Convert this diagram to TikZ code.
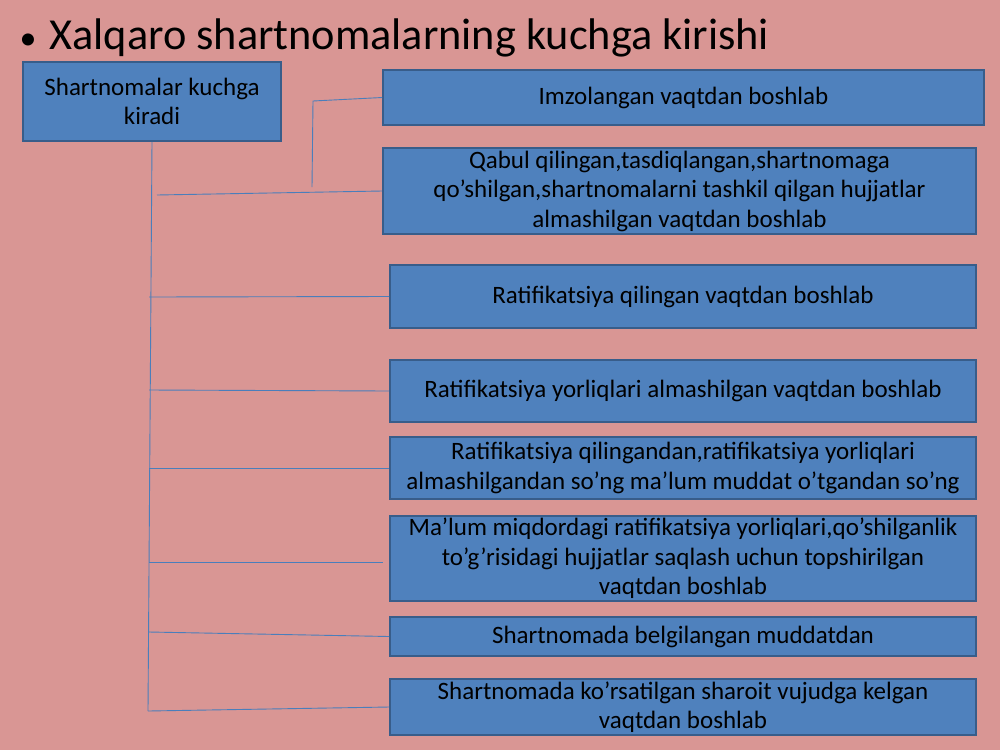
\documentclass[tikz,border=0pt]{standalone}
\usepackage{fontspec}
\setmainfont{Carlito}
\usepackage{xcolor}
\usepackage{tikz}
\usetikzlibrary{positioning,calc}

\definecolor{slidebg}{HTML}{D99694}
\definecolor{boxblue}{HTML}{4F81BD}
\definecolor{boxedge}{HTML}{385D8A}
\definecolor{linkblue}{HTML}{4A7EBB}

\tikzset{
    box/.style={draw=boxedge, line width=1.6pt, fill=boxblue, align=center, inner sep=0pt,
        font=\fontsize{25}{29.5}\selectfont, text=black},
    link/.style={draw=linkblue, line width=0.9pt}
}

\begin{document}
\begin{tikzpicture}[x=1pt, y=-1pt]
    % Slide
    \fill[slidebg] (0,0) rectangle (1000,750);
    \useasboundingbox (0,0) rectangle (1000,750);

    % Title
    \node[anchor=base, font=\fontsize{34}{34}\selectfont] (bullet) at (28,49) {•};
    \node[anchor=base west, font=\fontsize{44.3}{50}\selectfont] (title) at (46,49) {Xalqaro shartnomalarning kuchga kirishi};

    % Boxes
    \node[box, minimum width=258pt, minimum height=79pt] (main) at (152,101.5) {Shartnomalar kuchga\\kiradi};
    \node[box, minimum width=601pt, minimum height=55pt] (b1) at (683.5,97.5) {Imzolangan vaqtdan boshlab};
    \node[box, minimum width=593pt, minimum height=86pt] (b2) at (679.5,191) {Qabul qilingan,tasdiqlangan,shartnomaga\\qo’shilgan,shartnomalarni tashkil qilgan hujjatlar\\almashilgan vaqtdan boshlab};
    \node[box, minimum width=586pt, minimum height=63pt] (b3) at (683,296.5) {Ratifikatsiya qilingan vaqtdan boshlab};
    \node[box, minimum width=586pt, minimum height=62pt] (b4) at (683,391) {Ratifikatsiya yorliqlari almashilgan vaqtdan boshlab};
    \node[box, minimum width=586pt, minimum height=62pt] (b5) at (683,468) {Ratifikatsiya qilingandan,ratifikatsiya yorliqlari\\almashilgandan so’ng ma’lum muddat o’tgandan so’ng};
    \node[box, minimum width=586pt, minimum height=85pt] (b6) at (683,558.5) {Ma’lum miqdordagi ratifikatsiya yorliqlari,qo’shilganlik\\to’g’risidagi hujjatlar saqlash uchun topshirilgan\\vaqtdan boshlab};
    \node[box, minimum width=586pt, minimum height=39pt] (b7) at (683,636.5) {Shartnomada belgilangan muddatdan};
    \node[box, minimum width=586pt, minimum height=56pt] (b8) at (683,707) {Shartnomada ko’rsatilgan sharoit vujudga kelgan\\vaqtdan boshlab};

    % Trunk
    \coordinate (tbot) at (148,711);
    \draw[link] (main.south) -- (tbot);
    \draw[link] (tbot) -- (b8.west);

    % Branches
    \coordinate (j2) at (157,195);
    \draw[link] (j2) -- (b2.west);
    \coordinate (k1) at (313,101);
    \coordinate (k2) at (312,187);
    \draw[link] (b1.west) -- (k1) -- (k2);
    \foreach \n/\y in {b3/297, b4/390, b5/468, b7/632} {
        \coordinate (j\n) at (149,\y);
        \draw[link] (j\n) -- (\n.west);
    }
    \coordinate (j6) at (149,562);
    \coordinate (e6) at (383,562);
    \draw[link] (j6) -- (e6);
\end{tikzpicture}
\end{document}
